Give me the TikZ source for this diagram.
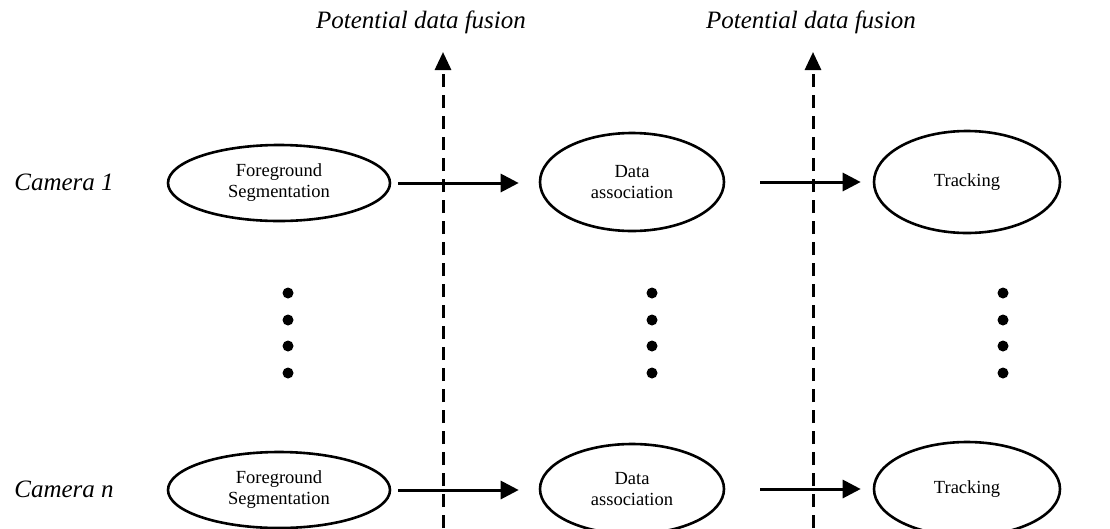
\documentclass[tikz,border=0pt]{standalone}
\usepackage{fontspec}
\setmainfont{Liberation Serif}
\usetikzlibrary{shapes.geometric,arrows.meta}
\tikzset{
  stage/.style={draw, ellipse, line width=2.6pt, inner sep=0pt, align=center, font=\fontsize{18.5}{21}\selectfont},
  flow/.style={line width=3pt, -{Triangle[length=18pt,width=18pt]}},
  fusion/.style={line width=3pt, dash pattern=on 13pt off 8pt, -{Triangle[length=18pt,width=16pt]}},
  cam/.style={font=\fontsize{25}{27}\selectfont\itshape},
  pdf/.style={font=\fontsize{25}{27}\selectfont\itshape},
  dot/.style={circle, fill, inner sep=0pt, minimum size=11pt}
}
\begin{document}
\begin{tikzpicture}[x=1pt,y=-1pt]
\useasboundingbox (0,0) rectangle (1110,528);
% labels
\node[cam] (c1) at (64,182) {Camera 1};
\node[cam] (cn) at (64,489) {Camera n};
\node[pdf] (p1) at (421,22) {Potential data fusion};
\node[pdf] (p2) at (811,22) {Potential data fusion};
% row 1
\node[stage, minimum width=222pt, minimum height=76pt] (fs1) at (279,183) {Foreground\\Segmentation};
\node[stage, minimum width=184pt, minimum height=98pt] (da1) at (632,182) {Data\\association};
\node[stage, minimum width=186pt, minimum height=102pt] (tr1) at (967,182) {Tracking};
% row n
\node[stage, minimum width=222pt, minimum height=76pt] (fsn) at (279,490) {Foreground\\Segmentation};
\node[stage, minimum width=184pt, minimum height=90pt] (dan) at (632,489) {Data\\association};
\node[stage, minimum width=186pt, minimum height=94pt] (trn) at (967,489) {Tracking};
% dots
\foreach \x/\n in {288/a,652/b,1003/c}{
  \foreach \y/\m in {293/1,320/2,346/3,373/4}{
    \node[dot] (dot\n\m) at (\x,\y) {};
  }
}
% fusion lines
\coordinate (f1b) at (443,528);
\coordinate (f1t) at (443,52);
\coordinate (f2b) at (813,528);
\coordinate (f2t) at (813,52);
\draw[fusion] (f1b) -- (f1t);
\draw[fusion] (f2b) -- (f2t);
% flow arrows
\draw[flow] ([xshift=7pt]fs1.east) -- ([xshift=-20pt]da1.west |- fs1.east);
\draw[flow] ([xshift=35pt]da1.east) -- ([xshift=-12pt]tr1.west |- da1.east);
\draw[flow] ([xshift=7pt]fsn.east) -- ([xshift=-20pt]dan.west |- fsn.east);
\draw[flow] ([xshift=35pt]dan.east) -- ([xshift=-12pt]trn.west |- dan.east);
\end{tikzpicture}
\end{document}
